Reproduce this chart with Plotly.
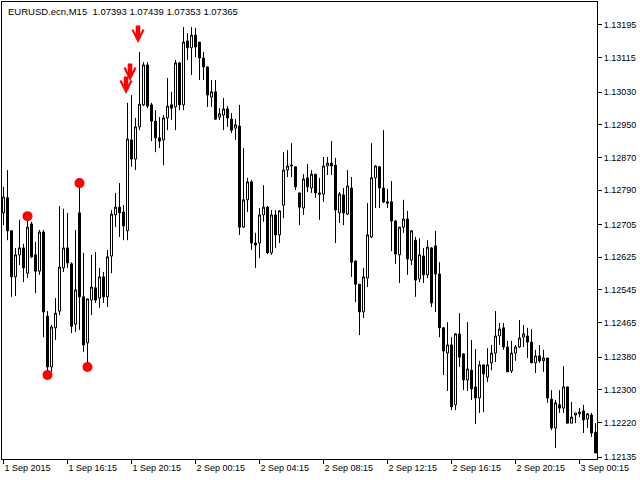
import pandas as pd
import plotly.graph_objects as go

# ---- data (EURUSD.ecn, M15) ----
times = pd.date_range("2015-09-01 12:15", periods=149, freq="15min")

opens = [1.12734,1.12771,1.12690,1.12577,1.12631,1.12648,1.12586,1.12707,1.12631,1.12591,
         1.12687,1.12481,1.12356,1.12452,1.12493,1.12599,1.12648,1.12609,1.12461,1.12734,
         1.12528,1.12415,1.12520,1.12550,1.12525,1.12577,1.12528,1.12628,1.12729,1.12748,
         1.12736,1.12690,1.12913,1.12866,1.12945,1.12999,1.13097,1.12999,1.12959,1.12918,
         1.12913,1.12967,1.12999,1.12994,1.13102,1.12999,1.13156,1.13139,1.13170,1.13153,
         1.13114,1.13092,1.13018,1.13031,1.12969,1.12974,1.12989,1.12964,1.12942,1.12947,
         1.12699,1.12766,1.12810,1.12660,1.12660,1.12729,1.12748,1.12636,1.12729,1.12680,
         1.12753,1.12839,1.12849,1.12847,1.12783,1.12746,1.12820,1.12795,1.12829,1.12783,
         1.12780,1.12849,1.12856,1.12851,1.12734,1.12778,1.12731,1.12795,1.12616,1.12559,
         1.12491,1.12574,1.12675,1.12820,1.12847,1.12795,1.12761,1.12761,1.12714,1.12631,
         1.12699,1.12719,1.12618,1.12667,1.12572,1.12628,1.12582,1.12648,1.12653,1.12584,
         1.12452,1.12390,1.12410,1.12263,1.12437,1.12388,1.12324,1.12348,1.12307,1.12280,
         1.12361,1.12331,1.12366,1.12390,1.12432,1.12452,1.12405,1.12346,1.12390,1.12405,
         1.12429,1.12432,1.12417,1.12366,1.12383,1.12371,1.12378,1.12277,1.12206,1.12263,
         1.12255,1.12307,1.12218,1.12238,1.12241,1.12248,1.12228,1.12238,1.12196]

highs = [1.12798,1.12839,1.12692,1.12648,1.12717,1.12658,1.12726,1.12712,1.12663,1.12692,
         1.12692,1.12493,1.12459,1.12525,1.12751,1.12744,1.12734,1.12613,1.12692,1.12807,
         1.12636,1.12523,1.12631,1.12638,1.12599,1.12589,1.12643,1.12741,1.12783,1.12807,
         1.12753,1.13004,1.13023,1.12967,1.13129,1.13104,1.13104,1.13004,1.12986,1.12969,
         1.12974,1.13065,1.13031,1.13109,1.13104,1.13190,1.13175,1.13190,1.13188,1.13153,
         1.13129,1.13094,1.13060,1.13060,1.12991,1.13016,1.12996,1.12979,1.12964,1.12999,
         1.12893,1.12820,1.12815,1.12685,1.12746,1.12802,1.12751,1.12741,1.12741,1.12741,
         1.12883,1.12888,1.12905,1.12847,1.12783,1.12829,1.12854,1.12839,1.12829,1.12820,
         1.12871,1.12871,1.12910,1.12869,1.12785,1.12795,1.12839,1.12822,1.12616,1.12559,
         1.12599,1.12758,1.12905,1.12851,1.12849,1.12937,1.12793,1.12812,1.12717,1.12699,
         1.12766,1.12739,1.12692,1.12675,1.12672,1.12648,1.12667,1.12650,1.12690,1.12613,
         1.12454,1.12466,1.12429,1.12439,1.12488,1.12390,1.12466,1.12422,1.12400,1.12371,
         1.12361,1.12402,1.12410,1.12493,1.12464,1.12464,1.12420,1.12420,1.12410,1.12471,
         1.12459,1.12452,1.12449,1.12398,1.12410,1.12398,1.12378,1.12299,1.12275,1.12299,
         1.12358,1.12307,1.12270,1.12243,1.12255,1.12263,1.12243,1.12243,1.12218]

lows = [1.12704,1.12667,1.12528,1.12530,1.12606,1.12564,1.12574,1.12623,1.12537,1.12582,
        1.12429,1.12336,1.12344,1.12422,1.12483,1.12589,1.12599,1.12439,1.12442,1.12447,
        1.12393,1.12356,1.12483,1.12513,1.12501,1.12513,1.12503,1.12586,1.12699,1.12675,
        1.12667,1.12667,1.12847,1.12839,1.12937,1.12996,1.12991,1.12910,1.12883,1.12893,
        1.12851,1.12937,1.12962,1.12937,1.12986,1.12986,1.13109,1.13072,1.13116,1.13060,
        1.13060,1.12994,1.12994,1.12962,1.12962,1.12937,1.12945,1.12930,1.12913,1.12680,
        1.12697,1.12736,1.12643,1.12599,1.12623,1.12712,1.12633,1.12631,1.12648,1.12660,
        1.12721,1.12822,1.12822,1.12790,1.12704,1.12729,1.12785,1.12783,1.12771,1.12717,
        1.12761,1.12827,1.12827,1.12660,1.12709,1.12704,1.12729,1.12577,1.12515,1.12434,
        1.12476,1.12552,1.12672,1.12746,1.12746,1.12758,1.12746,1.12640,1.12609,1.12562,
        1.12685,1.12582,1.12606,1.12528,1.12564,1.12562,1.12574,1.12503,1.12491,1.12429,
        1.12336,1.12297,1.12250,1.12250,1.12356,1.12299,1.12297,1.12275,1.12216,1.12243,
        1.12245,1.12319,1.12348,1.12368,1.12410,1.12398,1.12344,1.12341,1.12371,1.12402,
        1.12405,1.12378,1.12366,1.12341,1.12366,1.12344,1.12268,1.12201,1.12157,1.12243,
        1.12243,1.12218,1.12218,1.12218,1.12233,1.12194,1.12206,1.12184,1.12145]

closes = [1.12773,1.12690,1.12577,1.12631,1.12648,1.12599,1.12699,1.12626,1.12591,1.12687,
          1.12491,1.12356,1.12454,1.12488,1.12601,1.12648,1.12611,1.12456,1.12545,1.12528,
          1.12410,1.12523,1.12552,1.12520,1.12577,1.12528,1.12626,1.12731,1.12748,1.12734,
          1.12702,1.12915,1.12866,1.12945,1.13001,1.13097,1.12996,1.12959,1.12918,1.12910,
          1.12967,1.12996,1.12991,1.13102,1.12999,1.13153,1.13139,1.13170,1.13141,1.13114,
          1.13092,1.13023,1.13031,1.12964,1.12977,1.12989,1.12967,1.12937,1.12950,1.12699,
          1.12766,1.12810,1.12660,1.12655,1.12729,1.12748,1.12636,1.12729,1.12680,1.12739,
          1.12839,1.12849,1.12851,1.12798,1.12748,1.12817,1.12798,1.12829,1.12783,1.12780,
          1.12849,1.12856,1.12849,1.12741,1.12780,1.12734,1.12800,1.12613,1.12559,1.12491,
          1.12577,1.12680,1.12820,1.12849,1.12795,1.12761,1.12758,1.12714,1.12633,1.12699,
          1.12719,1.12621,1.12690,1.12569,1.12631,1.12582,1.12650,1.12513,1.12584,1.12452,
          1.12395,1.12410,1.12258,1.12437,1.12380,1.12324,1.12351,1.12302,1.12280,1.12361,
          1.12339,1.12361,1.12390,1.12432,1.12449,1.12405,1.12344,1.12390,1.12405,1.12427,
          1.12437,1.12417,1.12366,1.12383,1.12371,1.12378,1.12280,1.12206,1.12268,1.12255,
          1.12307,1.12218,1.12233,1.12243,1.12245,1.12226,1.12241,1.12194,1.12145]

# signal markers
dot_idx = [6, 11, 19, 21]
dot_price = [1.12726, 1.12336, 1.12807, 1.12356]
arrow_idx = [31, 32, 34]
arrow_price = [1.13016, 1.13048, 1.13141]

y_ticks = ["1.13195", "1.13115", "1.13030", "1.12950", "1.12870", "1.12790", "1.12705",
           "1.12625", "1.12545", "1.12465", "1.12380", "1.12300", "1.12220", "1.12135"]
x_tick_idx = [0, 16, 32, 48, 64, 80, 96, 112, 128, 144]
x_ticks = ["1 Sep 2015", "1 Sep 16:15", "1 Sep 20:15", "2 Sep 00:15", "2 Sep 04:15",
           "2 Sep 08:15", "2 Sep 12:15", "2 Sep 16:15", "2 Sep 20:15", "3 Sep 00:15"]
header = "EURUSD.ecn,M15  1.07393 1.07439 1.07353 1.07365"

FONT = "Liberation Sans, Arial, sans-serif"
bar = pd.Timedelta(minutes=15)

fig = go.Figure()
fig.add_trace(go.Candlestick(
    x=times, open=opens, high=highs, low=lows, close=closes,
    increasing=dict(line=dict(color="black", width=1), fillcolor="white"),
    decreasing=dict(line=dict(color="black", width=1), fillcolor="black"),
    whiskerwidth=0, hoverinfo="skip", showlegend=False))

fig.add_trace(go.Scatter(
    x=[times[i] for i in dot_idx], y=dot_price, mode="markers",
    marker=dict(symbol="circle", size=10, color="#ff0000", line=dict(width=0)),
    hoverinfo="skip", showlegend=False))

for i, p in zip(arrow_idx, arrow_price):
    fig.add_annotation(x=times[i], y=p, xref="x", yref="y", text="",
                       showarrow=True, ax=0, ay=-19, arrowhead=5, arrowsize=0.48,
                       arrowwidth=4.5, arrowcolor="#ff0000", xshift=-1.5, yshift=4)

fig.add_annotation(xref="paper", yref="paper", x=0, y=1, xanchor="left", yanchor="top",
                   xshift=4, yshift=-2, text=header, showarrow=False,
                   font=dict(family=FONT, size=9.5, color="black"))

fig.update_layout(
    width=640, height=480,
    margin=dict(l=2, r=43, t=2, b=21, autoexpand=False),
    paper_bgcolor="white", plot_bgcolor="white",
    boxgap=0.5, boxgroupgap=0, showlegend=False,
    xaxis=dict(type="date", range=[times[0] - 0.375 * bar, times[0] + 148.375 * bar],
               rangeslider=dict(visible=False), automargin=False,
               tickvals=[times[i] for i in x_tick_idx], ticktext=x_ticks,
               ticks="outside", ticklen=4, tickcolor="black", tickwidth=1,
               ticklabelposition="outside right",
               tickfont=dict(family=FONT, size=9, color="black"),
               showgrid=False, zeroline=False,
               showline=True, mirror=True, linecolor="black", linewidth=1),
    yaxis=dict(side="right", range=[1.121301, 1.132514], automargin=False,
               tickvals=[float(t) for t in y_ticks], ticktext=y_ticks,
               ticks="outside", ticklen=4, tickcolor="black", tickwidth=1,
               tickfont=dict(family=FONT, size=9, color="black"),
               showgrid=False, zeroline=False,
               showline=True, mirror=True, linecolor="black", linewidth=1),
)

fig.write_html("out.html", config={"displayModeBar": False},
               post_script="document.body.style.margin='0px';document.body.style.overflow='hidden';")
